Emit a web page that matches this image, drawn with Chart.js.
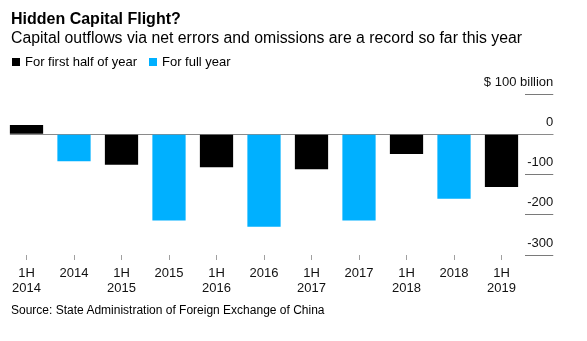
<!DOCTYPE html>
<html>
<head>
<meta charset="utf-8">
<script src="https://cdn.jsdelivr.net/npm/chart.js@4/dist/chart.umd.min.js"></script>
<style>
  html, body { margin: 0; padding: 0; background: #fff; }
  body { width: 587px; height: 341px; position: relative; overflow: hidden;
         font-family: "Liberation Sans", Arial, Helvetica, sans-serif; color: #000; }
  #wrap { position: absolute; left: 0; top: 0; width: 587px; height: 341px; }
  .txt { position: absolute; white-space: nowrap; }
  #title { left: 11px; top: 11px; font-size: 16px; line-height: 16px; font-weight: bold; }
  #subtitle { left: 11px; top: 30px; font-size: 15.8px; line-height: 16px; }
  #legend { left: 12px; top: 55px; font-size: 13px; line-height: 14px; display: flex; align-items: center; }
  #legend .sw { display: inline-block; width: 8px; height: 8px; margin-right: 5px; }
  #legend .item { display: flex; align-items: center; margin-right: 12px; }
  #source { left: 11px; top: 304px; font-size: 12px; line-height: 13px; }
</style>
</head>
<body>
<div id="wrap"><canvas id="chart"></canvas></div>
<div class="txt" id="title">Hidden Capital Flight?</div>
<div class="txt" id="subtitle">Capital outflows via net errors and omissions are a record so far this year</div>
<div class="txt" id="legend">
  <span class="item"><span class="sw" id="swHalf"></span>For first half of year</span>
  <span class="item"><span class="sw" id="swFull"></span>For full year</span>
</div>
<div class="txt" id="source">Source: State Administration of Foreign Exchange of China</div>
<script>
// Net errors and omissions, $ billion (negative = outflow)
const periods = [['1H', '2014'], '2014', ['1H', '2015'], '2015', ['1H', '2016'], '2016',
                 ['1H', '2017'], '2017', ['1H', '2018'], '2018', ['1H', '2019']];
const firstHalf = [23, -76, -82, -87, -49, -131];   // 1H 2014 .. 1H 2019
const fullYear = [-67, -214, -230, -214, -160];     // 2014 .. 2018
const yTicks = [100, 0, -100, -200, -300];

const halfColor = '#000000';
const fullColor = '#00b0ff';
document.getElementById('swHalf').style.background = halfColor;
document.getElementById('swFull').style.background = fullColor;

// Periods alternate: first half, full year, first half, ...
const halfData = periods.map((p, i) => (i % 2 === 0 ? firstHalf[i / 2] : null));
const fullData = periods.map((p, i) => (i % 2 === 1 ? fullYear[(i - 1) / 2] : null));

// Zero baseline running from the first bar to the right edge of the value axis
const zeroLine = {
  id: 'zeroLine',
  beforeDatasetsDraw(chart) {
    const y = chart.scales.y;
    const first = chart.getDatasetMeta(0).data[0];
    const py = Math.round(y.getPixelForValue(0)) + 0.5;
    const ctx = chart.ctx;
    ctx.save();
    ctx.strokeStyle = '#8a8a8a';
    ctx.lineWidth = 1.2;
    ctx.beginPath();
    ctx.moveTo(first.x - first.width / 2, py);
    ctx.lineTo(y.right, py);
    ctx.stroke();
    ctx.restore();
  }
};

const font = { family: '"Liberation Sans", Arial, Helvetica, sans-serif', size: 13 };
const axisWidth = 28;

new Chart(document.getElementById('chart'), {
  type: 'bar',
  data: {
    labels: periods,
    datasets: [
      { label: 'For first half of year', data: halfData, backgroundColor: halfColor, skipNull: true },
      { label: 'For full year', data: fullData, backgroundColor: fullColor, skipNull: true }
    ]
  },
  options: {
    responsive: true,
    maintainAspectRatio: false,
    animation: false,
    devicePixelRatio: 1,
    barPercentage: 0.7,
    categoryPercentage: 1.0,
    layout: { padding: { top: 94, left: 2.75, right: 33.75, bottom: 36 } },
    plugins: { legend: { display: false }, tooltip: { enabled: false } },
    scales: {
      x: {
        offset: true,
        border: { display: false },
        grid: { offset: false, drawOnChartArea: false, drawTicks: true, tickLength: 5, tickColor: '#a0a0a0', lineWidth: 1 },
        ticks: { font: { ...font, lineHeight: 1.154 }, color: '#111', padding: 5.5, maxRotation: 0, autoSkip: false },
        afterFit(scale) { scale.height = 50; scale.paddingLeft = 0; scale.paddingRight = 0; }
      },
      y: {
        position: 'right',
        min: -300,
        max: 100,
        border: { display: false },
        grid: { drawOnChartArea: false, drawTicks: true, tickLength: axisWidth, tickColor: '#7a7a7a', lineWidth: 1 },
        afterBuildTicks(scale) { scale.ticks = yTicks.map(v => ({ value: v })); },
        ticks: {
          font: font,
          color: '#111',
          mirror: true,
          crossAlign: 'near',
          padding: axisWidth,
          labelOffset: -12,
          callback: v => (v === 100 ? '$ 100 billion' : String(v))
        },
        afterFit(scale) { scale.width = axisWidth; scale.paddingTop = 0; scale.paddingBottom = 0; }
      }
    }
  },
  plugins: [zeroLine]
});
</script>
</body>
</html>
